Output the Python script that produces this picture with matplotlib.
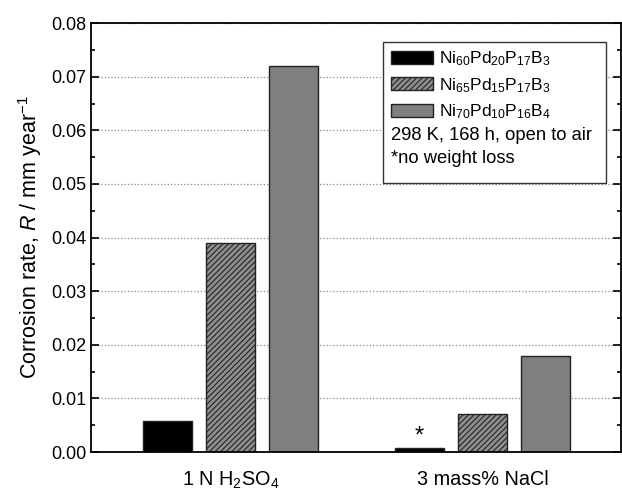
import matplotlib
matplotlib.use("Agg")
import matplotlib.pyplot as plt
import numpy as np
from matplotlib.patches import Rectangle
from matplotlib.ticker import MultipleLocator, FormatStrFormatter

plt.rcParams['font.family'] = ['Liberation Sans', 'DejaVu Sans']
plt.rcParams['mathtext.fontset'] = 'custom'
plt.rcParams['mathtext.rm'] = 'Liberation Sans'
plt.rcParams['mathtext.it'] = 'Liberation Sans:italic'
plt.rcParams['hatch.color'] = '#222222'
plt.rcParams['hatch.linewidth'] = 0.8

# donnees
solutions = ["1 N H$_2$SO$_4$", "3 mass% NaCl"]
alliages = ["Ni$_{60}$Pd$_{20}$P$_{17}$B$_{3}$",
            "Ni$_{65}$Pd$_{15}$P$_{17}$B$_{3}$",
            "Ni$_{70}$Pd$_{10}$P$_{16}$B$_{4}$"]
taux_ni60 = [0.0058, 0.0008]
taux_ni65 = [0.039, 0.007]
taux_ni70 = [0.072, 0.018]
sans_perte = [False, True]

fig = plt.figure(figsize=(6.22, 4.91), dpi=100)
ax = fig.add_axes([0.1463, 0.0794, 0.852, 0.8735])

x = np.arange(1, len(solutions) + 1)
w = 0.194
off = 0.25
ax.bar(x - off, taux_ni60, w, color='black', edgecolor='#222222', lw=1, label=alliages[0])
ax.bar(x, taux_ni65, w, color='#8e8e8e', edgecolor='#222222', lw=1, hatch='//////', label=alliages[1])
ax.bar(x + off, taux_ni70, w, color='#808080', edgecolor='#222222', lw=1, label=alliages[2])

for xi, v, flag in zip(x - off, taux_ni60, sans_perte):
    if flag:
        ax.text(xi, v + 0.0001, "*", ha='center', va='bottom', fontsize=17)

ax.set_xlim(0.445, 2.55)
ax.set_ylim(0, 0.08)
ax.set_xticks(x)
ax.set_xticklabels(solutions, fontsize=14.3)
ax.yaxis.set_major_locator(MultipleLocator(0.01))
ax.yaxis.set_minor_locator(MultipleLocator(0.005))
ax.yaxis.set_major_formatter(FormatStrFormatter('%.2f'))
ax.tick_params(axis='y', labelsize=13)
ax.tick_params(axis='x', length=0, pad=13)
ax.tick_params(axis='y', which='both', direction='in', right=True, width=1.2)
ax.tick_params(axis='y', which='major', length=6)
ax.tick_params(axis='y', which='minor', length=3)
ax.yaxis.grid(True, which='major', linestyle=':', color='#888888', lw=0.9)
ax.set_axisbelow(True)
for s in ax.spines.values():
    s.set_linewidth(1.3)

ax.set_ylabel("Corrosion rate, $R$ / mm year$^{-1}$", fontsize=15.5, labelpad=5)

# cadre de la legende avec les deux lignes de texte
ax.add_patch(Rectangle((0.551, 0.627), 0.421, 0.329, transform=ax.transAxes,
                       facecolor='white', edgecolor='#333333', lw=1, zorder=4))
leg = ax.legend(loc='upper left', bbox_to_anchor=(0.553, 0.955), frameon=False,
                fontsize=12.5, handlelength=2.4, handleheight=0.8,
                handletextpad=0.35, labelspacing=0.45, borderaxespad=0,
                borderpad=0.4)
leg.set_zorder(5)
ax.text(0.566, 0.737, "298 K, 168 h, open to air", transform=ax.transAxes,
        fontsize=13.2, va='center', zorder=6)
ax.text(0.566, 0.685, "*no weight loss", transform=ax.transAxes,
        fontsize=13.2, va='center', zorder=6)

fig.savefig("out.png", dpi=100)
